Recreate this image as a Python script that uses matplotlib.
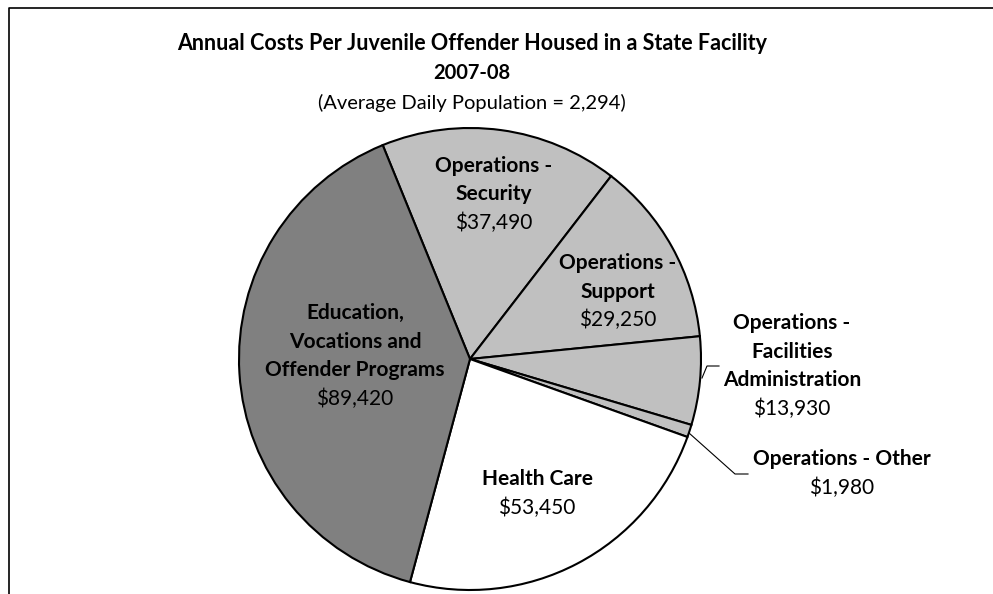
import matplotlib.pyplot as plt

plt.rcParams['font.family'] = ['Lato', 'DejaVu Sans']

# slices, clockwise from the top
names = ['Operations -\nSecurity', 'Operations -\nSupport',
         'Operations -\nFacilities\nAdministration', 'Operations - Other',
         'Health Care', 'Education,\nVocations and\nOffender Programs']
costs = [37490, 29250, 13930, 1980, 53450, 89420]
colors = ['#c0c0c0', '#c0c0c0', '#c0c0c0', '#c0c0c0', '#ffffff', '#808080']

title = 'Annual Costs Per Juvenile Offender Housed in a State Facility'
year = '2007-08'
subtitle = '(Average Daily Population = 2,294)'

W, H = 993, 594
fig = plt.figure(figsize=(W / 100, H / 100), dpi=100)
ax = fig.add_axes([0, 0, 1, 1])

cx, cy, r = 470, H - 359, 231
ax.pie(costs, colors=colors, startangle=112.2, counterclock=False,
       center=(cx, cy), radius=r,
       wedgeprops=dict(edgecolor='black', linewidth=1.5))
ax.set_aspect('equal')
ax.set_xlim(0, W)
ax.set_ylim(0, H)
ax.axis('off')

# label positions (pixels from top-left)
label_pos = [(494, 166), (618, 263), (792, 323), (842, 459), (537, 479), (355, 313)]
fs = 15
line_h = 28.5
for name, val, (x, y) in zip(names, costs, label_pos):
    lines = name.split('\n')
    for i, ln in enumerate(lines):
        ax.text(x, H - (y + i * line_h), ln, ha='center', va='center',
                fontsize=fs, fontweight='bold')
    ax.text(x, H - (y + len(lines) * line_h), '${:,}'.format(val),
            ha='center', va='center', fontsize=fs)

# leader lines
ax.plot([702, 707, 719], [H - 378, H - 366, H - 366], color='black', lw=0.8)
ax.plot([689, 735, 748], [H - 433, H - 474, H - 474], color='black', lw=0.8)

# titles
ax.text(472, H - 44, title, ha='center', va='center', fontsize=15.5, fontweight='bold')
ax.text(472, H - 73, year, ha='center', va='center', fontsize=14.5, fontweight='bold')
ax.text(472, H - 103, subtitle, ha='center', va='center', fontsize=14.5)

# frame on left and top
ax.plot([9, 9, W], [0, H - 8, H - 8], color='black', lw=1.2, clip_on=False)

fig.savefig('out.png', dpi=100)
